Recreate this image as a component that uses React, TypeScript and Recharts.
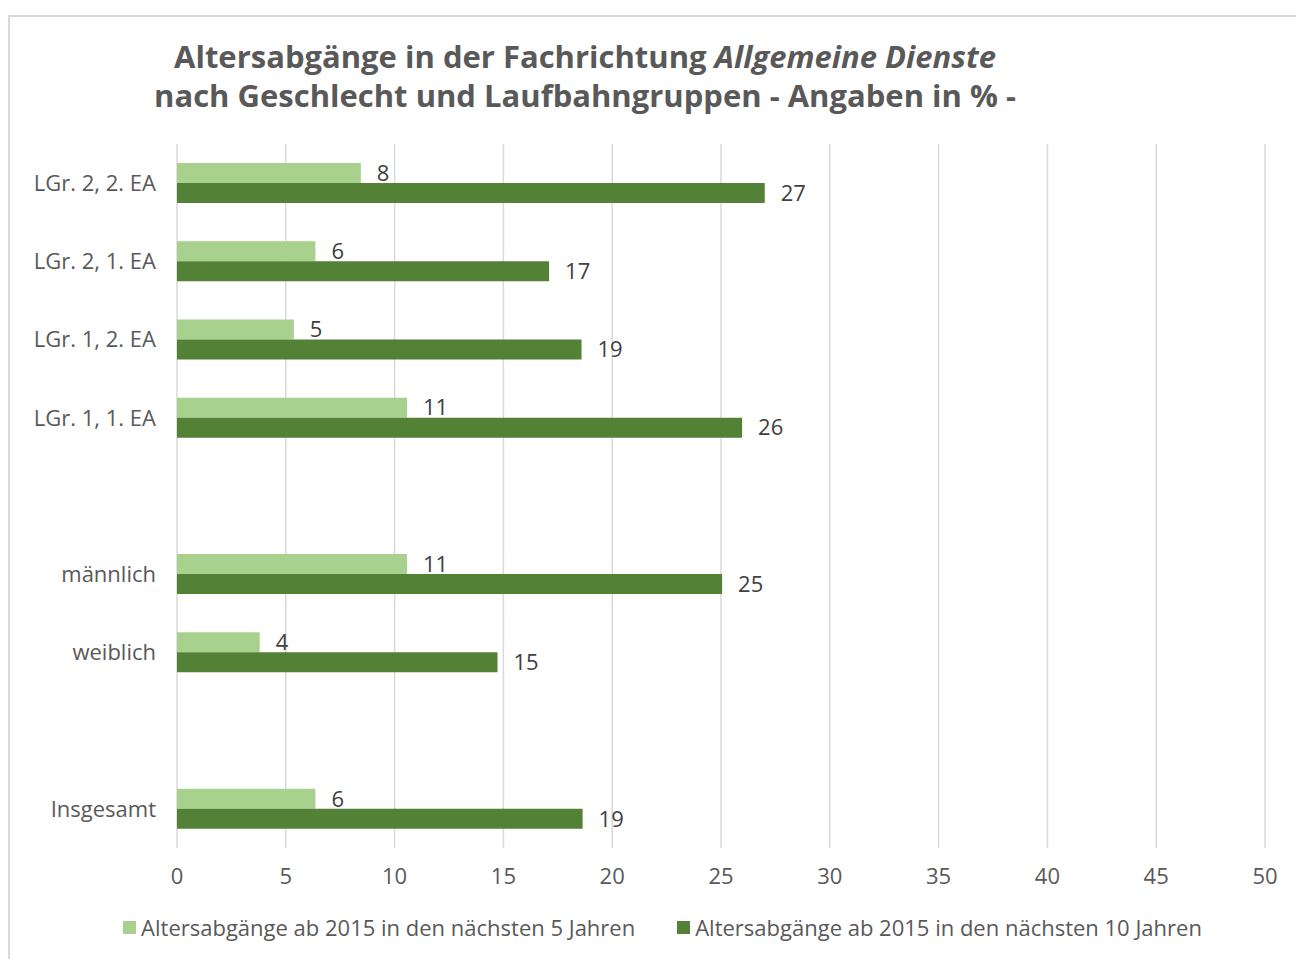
import React from 'react';
import { BarChart, Bar, XAxis, YAxis, CartesianGrid, Legend, LabelList } from 'recharts';

const categories = ['LGr. 2, 2. EA', 'LGr. 2, 1. EA', 'LGr. 1, 2. EA', 'LGr. 1, 1. EA', ' ', 'männlich', 'weiblich', '  ', 'Insgesamt'];
const next5 = [8.45, 6.36, 5.37, 10.57, null, 10.57, 3.8, null, 6.36];
const next10 = [27.01, 17.1, 18.59, 25.97, null, 25.05, 14.73, null, 18.64];
const xTicks = [0, 5, 10, 15, 20, 25, 30, 35, 40, 45, 50];
const seriesNames = ['Altersabgänge ab 2015 in den nächsten 5 Jahren', 'Altersabgänge ab 2015 in den nächsten 10 Jahren'];
const seriesColors = ['#a9d18e', '#538135'];

const data = categories.map((c, i) => ({ name: c, next5: next5[i], next10: next10[i] }));

const FONT = "'Open Sans', sans-serif";

const fmt = (v: any) => (v == null ? '' : String(Math.round(Number(v))));

const LegendContent = (props: any) => {
  const payload = [...(props.payload || [])].sort(
    (a: any, b: any) => seriesNames.indexOf(a.value) - seriesNames.indexOf(b.value)
  );
  return (
    <div style={{ display: 'flex', justifyContent: 'center', paddingLeft: 29, fontFamily: FONT, fontSize: 22, color: '#595959', lineHeight: '28px' }}>
      {payload.map((p: any, i: number) => (
        <div key={i} style={{ display: 'flex', alignItems: 'center', marginRight: i === 0 ? 42 : 0 }}>
          <span style={{ display: 'inline-block', width: 13, height: 13, background: p.color, marginRight: 5 }} />
          <span>{p.value}</span>
        </div>
      ))}
    </div>
  );
};

export default function App() {
  return (
    <div style={{ position: 'absolute', left: 0, top: 0, width: 1296, height: 959, background: '#fff', overflow: 'hidden' }}>
      <div style={{ position: 'absolute', left: 8, top: 15, width: 1400, height: 1000, borderTop: '2px solid #d9d9d9', borderLeft: '2px solid #d9d9d9' }} />
      <div style={{ position: 'absolute', left: 0, top: 37, width: 1170, textAlign: 'center', fontFamily: FONT, fontWeight: 700, fontSize: 31, lineHeight: '39px', color: '#595959' }}>
        <div>Altersabgänge in der Fachrichtung <i>Allgemeine Dienste</i></div>
        <div>nach Geschlecht und Laufbahngruppen - Angaben in % -</div>
      </div>
      <div style={{ position: 'absolute', left: 0, top: 0 }}>
        <BarChart
          width={1296}
          height={959}
          data={data}
          layout="vertical"
          margin={{ top: 144, right: 31, bottom: 33, left: 0 }}
          barGap={0}
          barSize={20}
        >
          <CartesianGrid horizontal={false} stroke="#d9d9d9" strokeWidth={1.5} />
          <XAxis
            type="number"
            domain={[0, 50]}
            ticks={xTicks}
            axisLine={false}
            tickLine={false}
            tickSize={0}
            tickMargin={20}
            height={50}
            tick={{ fill: '#595959', fontSize: 22, fontFamily: FONT }}
          />
          <YAxis
            type="category"
            dataKey="name"
            width={177}
            axisLine={false}
            tickLine={false}
            tickSize={0}
            tickMargin={21}
            interval={0}
            tick={{ fill: '#595959', fontSize: 22, fontFamily: FONT }}
          />
          <Legend
            verticalAlign="bottom"
            wrapperStyle={{ top: 913, left: 0, width: 1296 }}
            content={<LegendContent />}
          />
          <Bar dataKey="next5" name={seriesNames[0]} fill={seriesColors[0]} isAnimationActive={false}>
            <LabelList dataKey="next5" position="right" offset={16} formatter={fmt} fill="#404040" fontSize={22} fontFamily={FONT} />
          </Bar>
          <Bar dataKey="next10" name={seriesNames[1]} fill={seriesColors[1]} isAnimationActive={false}>
            <LabelList dataKey="next10" position="right" offset={16} formatter={fmt} fill="#404040" fontSize={22} fontFamily={FONT} />
          </Bar>
        </BarChart>
      </div>
    </div>
  );
}
